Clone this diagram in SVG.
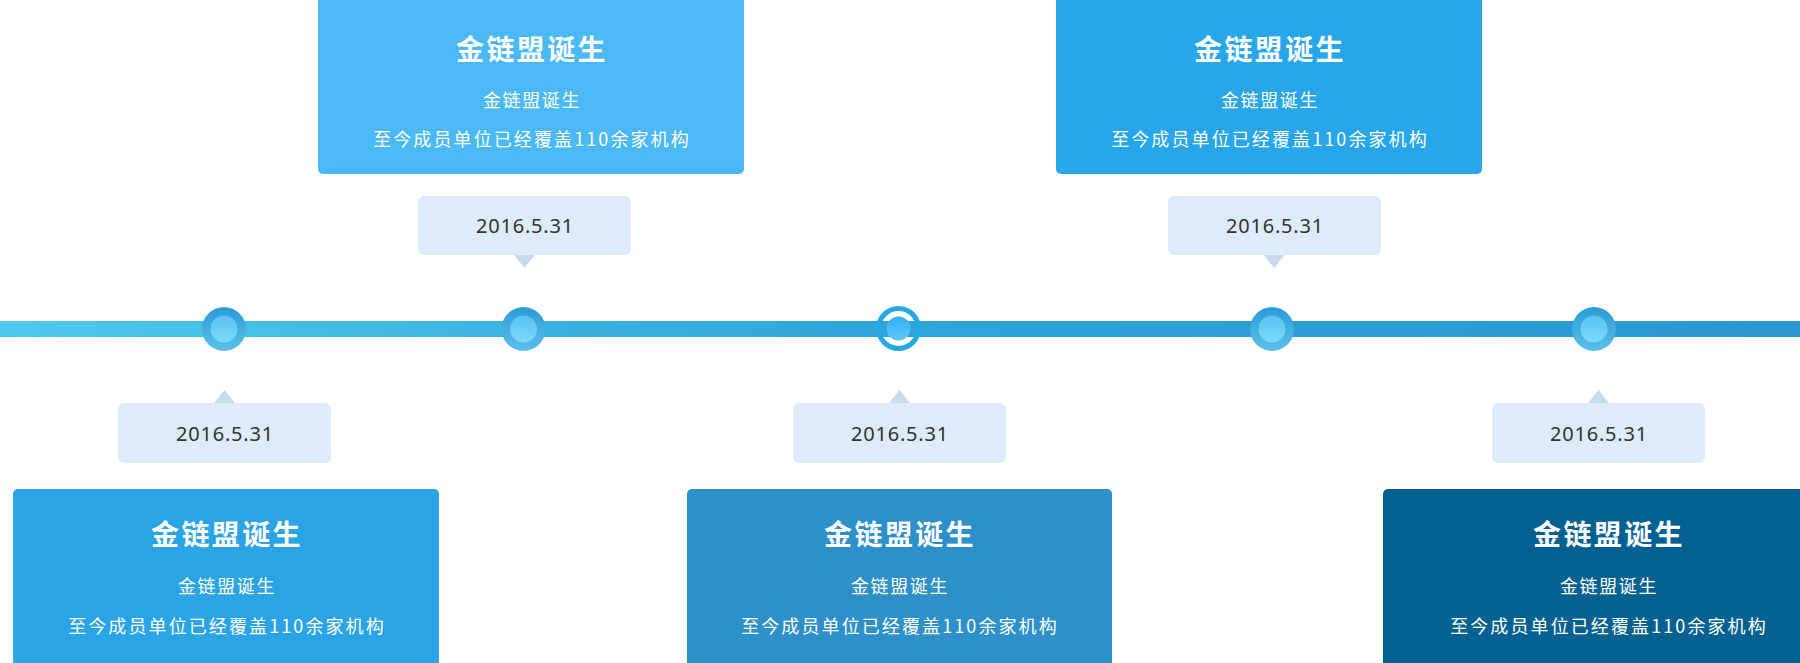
<svg xmlns="http://www.w3.org/2000/svg" width="1800" height="663" viewBox="0 0 1800 663">
<defs>
<linearGradient id="line" x1="0" y1="0" x2="1800" y2="0" gradientUnits="userSpaceOnUse">
<stop offset="0" stop-color="#4ECAEA"/>
<stop offset="0.5" stop-color="#2DA4DA"/>
<stop offset="1" stop-color="#2A98D2"/>
</linearGradient>
<linearGradient id="outer" x1="0" y1="0" x2="0" y2="1">
<stop offset="0" stop-color="#2B9CD5"/>
<stop offset="1" stop-color="#5CBFE9"/>
</linearGradient>
<linearGradient id="inner" x1="0" y1="0" x2="0" y2="1">
<stop offset="0" stop-color="#58C1F2"/>
<stop offset="1" stop-color="#7DD9FC"/>
</linearGradient>
<linearGradient id="inner2" x1="0" y1="0" x2="0" y2="1">
<stop offset="0" stop-color="#35AEF4"/>
<stop offset="1" stop-color="#5FCAF9"/>
</linearGradient>
<style>
.title{font-family:"Noto Sans CJK SC","Noto Sans",sans-serif;font-size:28px;font-weight:bold;fill:#fff;text-anchor:middle;letter-spacing:2.4px}
.sub{font-family:"Noto Sans CJK SC","Noto Sans",sans-serif;font-size:18px;fill:#fff;text-anchor:middle;letter-spacing:1.6px}
.desc{font-family:"Noto Sans CJK SC","Noto Sans",sans-serif;font-size:18px;fill:#fff;text-anchor:middle;letter-spacing:2.1px}
.date{font-family:"Noto Sans","Noto Sans CJK SC",sans-serif;font-size:20px;fill:#333;text-anchor:middle;letter-spacing:0.8px}
.dbox{fill:#DDEBFA}
.ptr{fill:#C8DBEA}
.dot-o{fill:url(#outer)}
.dot-i{fill:url(#inner)}
</style>
</defs>
<g id="connectors">
<rect x="0" y="321" width="1800" height="16" fill="url(#line)"/>
</g>
<g id="event1">
<rect x="13" y="489" width="426" height="180" rx="5" fill="#2BA4E6"/>
<text class="title" x="227" y="545">金链盟诞生</text>
<text class="sub" x="227" y="593">金链盟诞生</text>
<text class="desc" x="227" y="633">至今成员单位已经覆盖110余家机构</text>
<polygon class="ptr" points="214,403 224.5,390 235,403"/>
<rect class="dbox" x="118" y="403" width="213" height="60" rx="6"/>
<text class="date" x="225" y="441">2016.5.31</text>
<circle class="dot-o" cx="224" cy="329" r="22"/>
<circle class="dot-i" cx="224" cy="329" r="13.5"/>
</g>
<g id="event2">
<rect x="318" y="-6" width="426" height="180" rx="5" fill="#4AB9F6"/>
<text class="title" x="532" y="60">金链盟诞生</text>
<text class="sub" x="532" y="107">金链盟诞生</text>
<text class="desc" x="532" y="146">至今成员单位已经覆盖110余家机构</text>
<polygon class="ptr" points="514,255 524.5,268 535,255"/>
<rect class="dbox" x="418" y="196" width="213" height="59" rx="6"/>
<text class="date" x="525" y="233">2016.5.31</text>
<circle class="dot-o" cx="523.5" cy="329" r="22"/>
<circle class="dot-i" cx="523.5" cy="329" r="13.5"/>
</g>
<g id="event3">
<rect x="687" y="489" width="425" height="180" rx="5" fill="#2D90C8"/>
<text class="title" x="900" y="545">金链盟诞生</text>
<text class="sub" x="900" y="593">金链盟诞生</text>
<text class="desc" x="900" y="633">至今成员单位已经覆盖110余家机构</text>
<polygon class="ptr" points="889,403 899.5,390 910,403"/>
<rect class="dbox" x="793" y="403" width="213" height="60" rx="6"/>
<text class="date" x="900" y="441">2016.5.31</text>
<circle cx="898.5" cy="328.5" r="20" fill="none" stroke="#26A8E2" stroke-width="5"/>
<circle cx="898.5" cy="328.5" r="12" fill="url(#inner2)"/>
</g>
<g id="event4">
<rect x="1056" y="-6" width="426" height="180" rx="5" fill="#27A6E9"/>
<text class="title" x="1270" y="60">金链盟诞生</text>
<text class="sub" x="1270" y="107">金链盟诞生</text>
<text class="desc" x="1270" y="146">至今成员单位已经覆盖110余家机构</text>
<polygon class="ptr" points="1263.5,255 1274,268 1284.5,255"/>
<rect class="dbox" x="1168" y="196" width="213" height="59" rx="6"/>
<text class="date" x="1275" y="233">2016.5.31</text>
<circle class="dot-o" cx="1272" cy="329" r="22"/>
<circle class="dot-i" cx="1272" cy="329" r="13.5"/>
</g>
<g id="event5">
<rect x="1383" y="489" width="450" height="180" rx="5" fill="#036191"/>
<text class="title" x="1609" y="545">金链盟诞生</text>
<text class="sub" x="1609" y="593">金链盟诞生</text>
<text class="desc" x="1609" y="633">至今成员单位已经覆盖110余家机构</text>
<polygon class="ptr" points="1588,403 1598.5,390 1609,403"/>
<rect class="dbox" x="1492" y="403" width="213" height="60" rx="6"/>
<text class="date" x="1599" y="441">2016.5.31</text>
<circle class="dot-o" cx="1594" cy="329" r="22"/>
<circle class="dot-i" cx="1594" cy="329" r="13.5"/>
</g>
</svg>
